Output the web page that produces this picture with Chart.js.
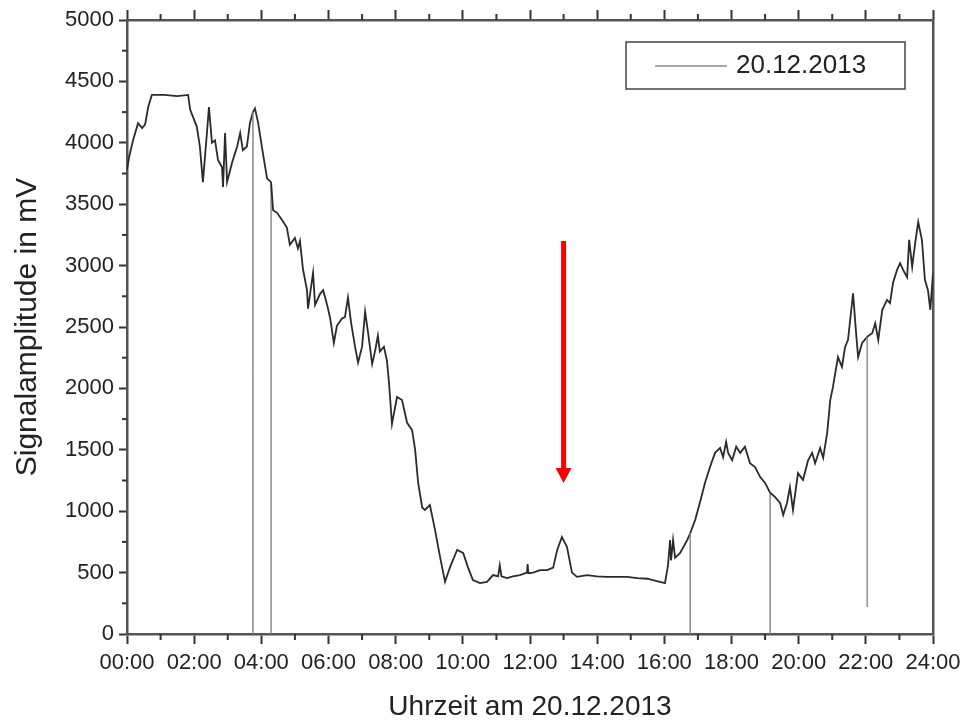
<!DOCTYPE html>
<html><head><meta charset="utf-8">
<script src="https://cdn.jsdelivr.net/npm/chart.js@4/dist/chart.umd.min.js"></script>
<style>html,body{margin:0;padding:0;background:#fff}#wrap{width:964px;height:726px}</style>
</head><body><div id="wrap"><canvas id="c"></canvas></div>
<script>
// time of day in hours
const hours = [
0.00,0.06,0.18,0.33,0.45,0.54,0.63,0.74,1.10,1.50,1.82,1.88,2.08,2.17,2.26,2.38,2.44,2.53,2.62,2.71,2.83,2.86,2.92,2.98,
3.13,3.28,3.37,3.45,3.57,3.66,3.75,3.75,3.75,3.81,3.90,4.05,4.17,4.29,4.29,4.29,4.35,4.47,4.62,4.76,4.85,5.00,5.09,5.15,
5.24,5.36,5.39,5.54,5.60,5.75,5.84,5.96,6.05,6.16,6.25,6.40,6.49,6.58,6.67,6.79,6.88,7.00,7.09,7.18,7.30,7.39,7.47,7.53,
7.65,7.74,7.80,7.89,8.04,8.19,8.34,8.49,8.58,8.67,8.79,8.87,9.02,9.17,9.32,9.47,9.62,9.83,10.01,10.15,10.30,10.51,10.72,10.90,
11.05,11.10,11.15,11.32,11.49,11.70,11.91,11.93,11.95,12.09,12.30,12.51,12.69,12.81,12.95,13.10,13.25,13.40,13.70,13.99,14.29,14.59,14.89,15.19,
15.49,15.78,16.02,16.11,16.17,16.20,16.26,16.32,16.47,16.68,16.77,16.77,16.77,16.92,17.06,17.21,17.36,17.51,17.66,17.75,17.84,17.90,
18.02,18.14,18.26,18.40,18.55,18.70,18.85,19.00,19.15,19.15,19.15,19.30,19.45,19.54,19.65,19.74,19.83,19.98,20.13,20.28,20.40,20.49,
20.64,20.73,20.85,20.94,21.02,21.17,21.29,21.38,21.47,21.62,21.71,21.77,21.89,22.04,22.04,22.04,22.19,22.28,22.37,22.49,22.63,22.72,
22.81,22.93,23.02,23.11,23.23,23.29,23.38,23.47,23.56,23.67,23.76,23.85,23.92,24.00
];
// signal amplitude in mV
const signal = [
3780,3880,4020,4160,4120,4150,4290,4390,4390,4380,4390,4270,4130,3970,3680,4080,4290,4000,4020,3860,3800,3640,4080,3680,
3840,3970,4080,3940,3970,4160,4250,0,4250,4280,4170,3910,3710,3680,0,3680,3450,3430,3370,3310,3170,3225,3140,3200,
2970,2800,2650,2940,2680,2770,2800,2680,2570,2370,2510,2570,2580,2740,2540,2340,2210,2340,2625,2450,2200,2310,2430,2300,
2340,2225,2050,1710,1930,1905,1720,1660,1500,1230,1030,1010,1050,850,630,425,545,685,660,545,440,415,425,480,
470,560,470,455,470,480,500,570,495,500,520,520,540,685,790,710,500,465,480,470,465,465,465,455,
450,430,415,560,765,600,765,620,660,765,820,0,820,930,1070,1230,1360,1475,1515,1440,1565,1475,
1415,1525,1475,1525,1390,1360,1280,1230,1150,0,1150,1115,1065,970,1065,1195,1010,1310,1255,1415,1475,1390,
1515,1435,1640,1905,2010,2255,2175,2335,2395,2775,2450,2255,2370,2420,220,2420,2450,2530,2395,2640,2720,2695,
2860,2965,3020,2965,2905,3210,2990,3185,3355,3210,2885,2800,2640,2940
];
const xTickLabels = ['00:00','02:00','04:00','06:00','08:00','10:00','12:00','14:00','16:00','18:00','20:00','22:00','24:00'];
const yTickValues = [0,500,1000,1500,2000,2500,3000,3500,4000,4500,5000];
const seriesLabel = '20.12.2013';
const xTitle = 'Uhrzeit am 20.12.2013';
const yTitle = 'Signalamplitude in mV';
const arrowHour = 13.0, arrowFromMv = 3200, arrowToMv = 1230;

const FONT = 'Liberation Sans, Arial, sans-serif';
const AXIS = '#555';

const extras = {
  id: 'extras',
  afterDraw(chart) {
    const {ctx, chartArea: a, scales: {x, y}} = chart;
    ctx.save();
    // minor ticks
    ctx.strokeStyle = '#333'; ctx.lineWidth = 2;
    for (let h = 1; h < 24; h += 2) {
      const px = x.getPixelForValue(h);
      ctx.beginPath(); ctx.moveTo(px, a.bottom); ctx.lineTo(px, a.bottom + 6); ctx.stroke();
      ctx.beginPath(); ctx.moveTo(px, a.top); ctx.lineTo(px, a.top - 6); ctx.stroke();
    }
    for (let v = 250; v < 5000; v += 500) {
      const py = y.getPixelForValue(v);
      ctx.beginPath(); ctx.moveTo(a.left, py); ctx.lineTo(a.left - 5, py); ctx.stroke();
    }
    // red arrow
    const ax = x.getPixelForValue(arrowHour);
    const y0 = y.getPixelForValue(arrowFromMv), y1 = y.getPixelForValue(arrowToMv);
    ctx.strokeStyle = '#ff0000'; ctx.fillStyle = '#ff0000'; ctx.lineWidth = 5;
    ctx.beginPath(); ctx.moveTo(ax, y0); ctx.lineTo(ax, y1 - 12); ctx.stroke();
    ctx.beginPath(); ctx.moveTo(ax - 8, y1 - 15); ctx.lineTo(ax + 8, y1 - 15); ctx.lineTo(ax, y1); ctx.closePath(); ctx.fill();
    // legend box
    const bw = 279, bh = 47;
    const bx = a.right - 28 - bw, by = a.top + 22;
    ctx.strokeStyle = '#444'; ctx.lineWidth = 1.5;
    ctx.strokeRect(bx, by, bw, bh);
    ctx.strokeStyle = '#888'; ctx.lineWidth = 1.5;
    ctx.beginPath(); ctx.moveTo(bx + 29, by + 24); ctx.lineTo(bx + 101, by + 24); ctx.stroke();
    ctx.fillStyle = '#222'; ctx.font = '26px ' + FONT; ctx.textBaseline = 'middle'; ctx.textAlign = 'left';
    ctx.fillText(seriesLabel, bx + 110, by + 24);
    ctx.restore();
  }
};

new Chart(document.getElementById('c'), {
  type: 'line',
  data: {
    datasets: [{
      label: seriesLabel,
      data: hours.map((h, i) => ({x: h, y: signal[i]})),
      borderColor: '#2a2a2a',
      borderWidth: 1.8,
      pointRadius: 0,
      tension: 0,
      segment: {
        borderColor: c => c.p0.parsed.x === c.p1.parsed.x ? '#8a8a8a' : '#2a2a2a',
        borderWidth: c => c.p0.parsed.x === c.p1.parsed.x ? 1 : 1.8
      }
    }]
  },
  options: {
    responsive: true, maintainAspectRatio: false, animation: false,
    layout: {padding: 0},
    plugins: {legend: {display: false}, tooltip: {enabled: false}},
    scales: {
      x: {
        type: 'linear', position: 'bottom', min: 0, max: 24,
        afterFit: s => { s.height = 92; s.paddingRight = 20; s.paddingLeft = 20; },
        ticks: {stepSize: 2, autoSkip: false, maxRotation: 0, padding: 6, color: '#222',
          font: {family: FONT, size: 22}, callback: v => xTickLabels[v / 2]},
        grid: {drawOnChartArea: false, tickLength: 10, tickColor: '#333', tickWidth: 2},
        border: {color: AXIS, width: 2.5},
        title: {display: true, text: xTitle, color: '#222', font: {family: FONT, size: 28}, padding: {top: 0, bottom: 2}}
      },
      x2: {
        type: 'linear', position: 'top', min: 0, max: 24, display: true,
        afterFit: s => { s.height = 20; s.paddingRight = 0; s.paddingLeft = 0; },
        ticks: {stepSize: 2, display: false},
        grid: {drawOnChartArea: false, tickLength: 10, tickColor: '#333', tickWidth: 2},
        border: {color: AXIS, width: 2.5}
      },
      y: {
        min: 0, max: 5000,
        afterFit: s => { s.width = 127; },
        afterBuildTicks: s => { s.ticks = yTickValues.map(v => ({value: v})); },
        ticks: {padding: 5, color: '#222', font: {family: FONT, size: 22}, callback: v => String(v)},
        grid: {drawOnChartArea: false, tickLength: 8, tickColor: '#333', tickWidth: 2},
        border: {color: AXIS, width: 2.5},
        title: {display: true, text: yTitle, color: '#222', font: {family: FONT, size: 30}, padding: {top: 10, bottom: 0}}
      },
      y2: {
        position: 'right', min: 0, max: 5000, display: true,
        afterFit: s => { s.width = 31; },
        ticks: {display: false},
        grid: {drawOnChartArea: false, drawTicks: false},
        border: {color: AXIS, width: 2.5}
      }
    }
  },
  plugins: [extras]
});
</script>
</body></html>
